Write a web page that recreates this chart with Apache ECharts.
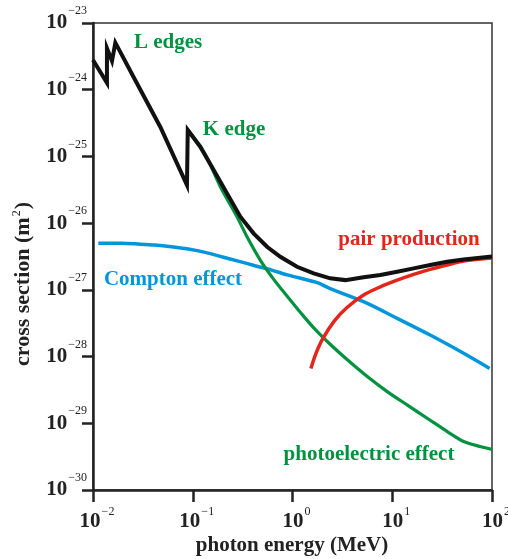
<!DOCTYPE html>
<html>
<head>
<meta charset="utf-8">
<script src="https://cdn.jsdelivr.net/npm/echarts@6/dist/echarts.min.js"></script>
<style>html,body{margin:0;padding:0;background:#fff;}#chart{width:508px;height:559px;}#err{position:absolute;left:100px;top:300px;font:11px monospace;color:#c00;width:400px;}</style>
</head>
<body>
<div id="chart"></div>
<div id="err"></div>
<script>
// photon energy (MeV) and cross section (m^2)
const energyTotal = [0.01, 0.0138, 0.0138, 0.0155, 0.01675, 0.0255, 0.0473, 0.0875, 0.0891, 0.119, 0.162, 0.220, 0.300, 0.407, 0.555, 0.755, 1.11, 1.63, 2.39, 3.38, 5.16, 7.59, 11.2, 16.4, 24.0, 35.4, 51.9, 100];
const sigmaTotal  = [2.79e-24, 1.27e-24, 4.18e-24, 2.69e-24, 5.07e-24, 1.55e-24, 2.76e-25, 3.72e-26, 2.49e-25, 1.40e-25, 6.25e-26, 2.80e-26, 1.25e-26, 7.03e-27, 4.43e-27, 3.13e-27, 2.22e-27, 1.77e-27, 1.49e-27, 1.40e-27, 1.54e-27, 1.67e-27, 1.87e-27, 2.10e-27, 2.36e-27, 2.64e-27, 2.86e-27, 3.15e-27];

const energyPhoto = [0.0891, 0.134, 0.189, 0.278, 0.350, 0.475, 0.657, 0.893, 1.22, 1.65, 2.43, 3.57, 5.66, 8.98, 14.2, 22.6, 35.9, 52.7, 77.6, 100];
const sigmaPhoto  = [2.49e-25, 1.05e-25, 3.52e-26, 1.25e-26, 6.25e-27, 2.80e-27, 1.40e-27, 7.88e-28, 4.45e-28, 2.65e-28, 1.49e-28, 8.87e-29, 4.98e-29, 2.96e-29, 1.87e-29, 1.18e-29, 7.46e-30, 5.28e-30, 4.45e-30, 4.06e-30];

const energyCompton = [0.0113, 0.0194, 0.0284, 0.0418, 0.0614, 0.0901, 0.133, 0.195, 0.286, 0.421, 0.617, 0.908, 1.77, 2.39, 5.16, 11.2, 24.0, 51.9, 94.6];
const sigmaCompton  = [4.98e-27, 4.98e-27, 4.86e-27, 4.70e-27, 4.43e-27, 4.09e-27, 3.65e-27, 3.13e-27, 2.70e-27, 2.30e-27, 1.98e-27, 1.66e-27, 1.28e-27, 1.04e-27, 6.64e-28, 3.74e-28, 2.10e-28, 1.12e-28, 6.65e-29];

const energyPair = [1.53, 1.72, 2.00, 2.62, 3.52, 5.16, 7.59, 11.2, 16.4, 24.0, 35.4, 51.9, 100];
const sigmaPair  = [6.65e-29, 1.12e-28, 1.83e-28, 3.40e-28, 5.43e-28, 8.36e-28, 1.11e-27, 1.40e-27, 1.71e-27, 2.03e-27, 2.36e-27, 2.70e-27, 3.00e-27];

const xRange = [0.01, 100];
const yRange = [1e-30, 1e-23];
// y values are plotted in units of yUnit m^2 (log axis cannot cope with 1e-30 directly)
const yUnit = 1e-30;

const labels = {
  title_x: 'photon energy (MeV)',
  title_y: 'cross section (m',
  total: ['L edges', 'K edge'],
  pair: 'pair production',
  compton: 'Compton effect',
  photo: 'photoelectric effect'
};

function zip(a, b) { return a.map((v, i) => [v, b[i] / yUnit]); }

const SERIF = '"Liberation Serif", "DejaVu Serif", serif';
const GREEN = '#00923F', BLUE = '#0096DB', RED = '#E2261C', BLACK = '#111111';

function fmtExp(e) { return '{b|10}{e|' + (e < 0 ? '\u2212' : '') + Math.abs(e) + '}'; }
function fmtX(v) { return fmtExp(Math.round(Math.log10(v))); }
function fmtY(v) { return fmtExp(Math.round(Math.log10(v * yUnit))); }

const richY = {
  b: { fontFamily: SERIF, fontWeight: 'bold', fontSize: 21, color: '#222', lineHeight: 36 },
  e: { fontFamily: SERIF, fontSize: 12, color: '#222', lineHeight: 12, verticalAlign: 'top', padding: [0, 0, 0, 1] }
};
const richX = {
  b: { fontFamily: SERIF, fontWeight: 'bold', fontSize: 21, color: '#222', lineHeight: 32 },
  e: { fontFamily: SERIF, fontSize: 12, color: '#222', lineHeight: 12, verticalAlign: 'top', padding: [0, 0, 0, 1] }
};

try {
const chart = echarts.init(document.getElementById('chart'), null, { renderer: 'canvas' });
const lineBase = { type: 'line', symbol: 'none', silent: true, animation: false };

chart.setOption({
  animation: false,
  backgroundColor: '#fff',
  grid: { left: 93, right: 16, top: 23, bottom: 69, show: true, borderColor: '#333', borderWidth: 1.5, outerBoundsMode: 'none', containLabel: false },
  xAxis: {
    type: 'log', logBase: 10, min: xRange[0], max: xRange[1],
    axisLine: { lineStyle: { color: '#222', width: 2.5 } },
    axisTick: { show: true, length: 12, inside: false, lineStyle: { color: '#222', width: 2.5 } },
    minorTick: { show: false }, splitLine: { show: false },
    axisLabel: { formatter: fmtX, rich: richX, margin: 16, padding: [0, 0, 0, 8], showMinLabel: true, showMaxLabel: true, hideOverlap: false }
  },
  yAxis: {
    type: 'log', logBase: 10, min: yRange[0] / yUnit, max: yRange[1] / yUnit, splitNumber: 7,
    axisLine: { lineStyle: { color: '#222', width: 2.5 } },
    axisTick: { show: true, length: 11, inside: false, lineStyle: { color: '#222', width: 2.5 } },
    minorTick: { show: false }, splitLine: { show: false },
    axisLabel: { formatter: fmtY, rich: richY, margin: 6, showMinLabel: true, showMaxLabel: true, hideOverlap: false }
  },
  series: [
    Object.assign({}, lineBase, { name: 'Compton', data: zip(energyCompton, sigmaCompton), smooth: 0.3, lineStyle: { color: BLUE, width: 3.5 }, z: 2 }),
    Object.assign({}, lineBase, { name: 'photo', data: zip(energyPhoto, sigmaPhoto), smooth: 0.3, lineStyle: { color: GREEN, width: 3.2 }, z: 3 }),
    Object.assign({}, lineBase, { name: 'pair', data: zip(energyPair, sigmaPair), smooth: 0.35, lineStyle: { color: RED, width: 3.5 }, z: 4 }),
    Object.assign({}, lineBase, { name: 'total', data: zip(energyTotal, sigmaTotal), smooth: false, lineStyle: { color: BLACK, width: 4, join: 'miter' }, z: 5 })
  ],
  graphic: [
    { type: 'text', x: 168, y: 43, z: 10, style: { text: labels.total[0], font: 'bold 21px ' + SERIF, fill: GREEN, align: 'center', verticalAlign: 'middle' } },
    { type: 'text', x: 234, y: 130, z: 10, style: { text: labels.total[1], font: 'bold 21px ' + SERIF, fill: GREEN, align: 'center', verticalAlign: 'middle' } },
    { type: 'text', x: 409, y: 240, z: 10, style: { text: labels.pair, font: 'bold 21px ' + SERIF, fill: RED, align: 'center', verticalAlign: 'middle' } },
    { type: 'text', x: 173, y: 280, z: 10, style: { text: labels.compton, font: 'bold 21px ' + SERIF, fill: BLUE, align: 'center', verticalAlign: 'middle' } },
    { type: 'text', x: 369, y: 455, z: 10, style: { text: labels.photo, font: 'bold 21px ' + SERIF, fill: GREEN, align: 'center', verticalAlign: 'middle' } },
    { type: 'text', x: 292, y: 546, z: 10, style: { text: labels.title_x, font: 'bold 21px ' + SERIF, fill: '#222', align: 'center', verticalAlign: 'middle' } },
    { type: 'text', x: 23, y: 284, rotation: Math.PI / 2, z: 10,
      style: { text: '{a|' + labels.title_y + '}{s|2}{a|)}', align: 'center', verticalAlign: 'middle',
        rich: { a: { font: 'bold 22px ' + SERIF, fill: '#222', lineHeight: 24 },
                s: { font: '12px ' + SERIF, fill: '#222', lineHeight: 12, verticalAlign: 'top', padding: [0, 1, 0, 1] } } } }
  ]
});
} catch (err) {
  document.getElementById('err').textContent = String(err && err.stack || err);
}
</script>
</body>
</html>
